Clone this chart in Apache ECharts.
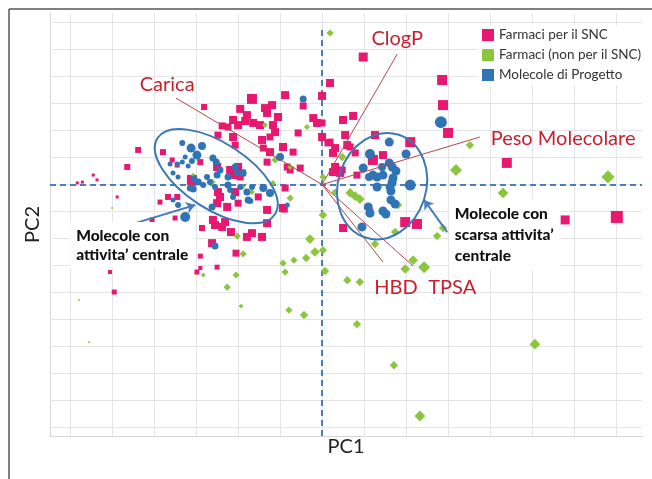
<!DOCTYPE html>
<html><head><meta charset="utf-8">
<script src="https://cdn.jsdelivr.net/npm/echarts@6/dist/echarts.min.js"></script>
<style>html,body{margin:0;padding:0;background:#fff}#c{width:652px;height:479px}</style>
</head><body><div id="c"></div>
<script>
// ---- data ----
const seriesNames = ['Farmaci per il SNC', 'Farmaci (non per il SNC)', 'Molecole di Progetto'];
// [PC1, PC2, marker size]
const snc = [
[-2.81,2.87,6],[-1.67,3.17,10],[-0.88,3.31,8],[-0.45,2.91,7],[0,3.28,8],[0.98,4.72,9],[0.19,3.76,8],
[-1.95,2.8,8],[-1.79,2.57,8],[-1.83,2.35,8],[-1.64,2.28,8],[-1.48,2.2,8],[-2.12,2.39,8],[-2.0,2.2,8],[-2.38,2.17,7],
[-1.36,2.83,8],[-1.19,2.94,8],[-1.31,2.65,8],[-1.05,2.5,8],[-1.17,2.2,8],[-1.12,1.94,8],[-1.24,1.76,7],[-1.43,1.65,8],[-1.4,1.35,7],
[-2.48,1.83,7],[-2.12,1.76,8],[-2.07,1.46,7],[-0.93,1.39,8],[-0.69,1.2,7],[-0.83,0.65,7],[-0.76,0.54,7],[-0.52,0.61,7],
[-1.24,1.2,8],[-1.31,0.83,7],[-0.21,2.46,8],[-0.12,2.28,8],[-0.57,1.91,7],[0,1.76,8],[0.14,1.54,7],
[-4.38,1.28,6],[-4.64,0.65,6],[-3.79,1.2,6],[-3.57,0.91,5],[-3.45,0.72,5],[-2.9,0.83,6],[-3.1,0.17,10],
[-2.5,0.65,8],[-2.19,0.54,8],[-2.0,0.65,8],[-1.9,0.43,7],[-2.12,0.35,8],[-1.95,0.28,7],
[-2.48,-0.28,8],[-2.43,-0.46,8],[-2.07,-0.28,8],[-2.0,-0.69,7],[-2.5,-0.69,8],[-2.26,-0.83,8],[-1.31,-0.94,8],[-0.93,-0.87,8],[-0.88,-0.13,7],
[-3.67,-0.46,6],[-3.45,-0.46,6],[-3.86,-0.65,5],[-3.5,-1.24,5],[-4.05,-1.31,5],[-2.86,-1.61,6],
[-2.6,-1.31,8],[-2.55,-1.5,8],[-2.38,-1.57,8],[-2.31,-1.39,8],[-2.17,-1.76,8],[-1.79,-1.94,8],[-1.67,-1.8,8],[-1.43,-1.94,8],[-1.31,-1.43,8],
[-1.52,-0.46,7],[-0.9,-0.91,7],[-2.62,-2.17,8],[-2.05,-2.54,7],[-2.9,-2.65,5],[-2.98,-3.24,5],[-2.9,-3.09,4],[-2.5,-3.06,5],
[-5.05,-3.24,4],[-4.95,-3.98,5],[-5.83,0.06,3],[-5.71,0.09,3],[-5.45,0.35,3],[-5.36,0.17,3],[-4.88,-0.46,3],
[0.5,2.39,8],[0.74,2.54,8],[0,2.28,7],[0.19,1.57,7],[0.31,1.35,8],[0.26,1.17,8],[0.55,1.83,8],[0.6,1.46,8],[0.67,1.39,7],[0.79,1.17,7],[1.26,1.83,8],
[0.31,0.65,8],[0.26,0.46,8],[0.43,0.43,8],[0.48,0.54,7],[0.83,0.35,7],[1.21,0.91,10],[1.45,1.09,8],[2.1,1.57,10],
[2.86,3.87,10],[2.88,2.94,10],[3.0,1.91,10],[4.4,0.8,10],[5.79,-1.31,9],[7.02,-1.2,12],
[1.14,-1.02,7],[1.98,-1.39,10],[2.26,-1.46,10],[0.5,-1.61,8],[-2.24,2.13,7]
];
const nonSnc = [
[0.19,5.61,6],[0.48,1.02,7],[0.02,0.28,6],[0.31,-0.28,6],[0.67,-0.31,8],[0.79,-0.43,8],[0.9,-0.54,8],
[1.81,-0.76,7],[3.19,0.54,10],[3.52,1.46,7],[4.31,-0.31,9],[6.81,0.28,11],[0.02,-1.13,7],[1.74,-1.76,7],[1.26,-2.2,7],
[2.74,-1.91,7],[2.88,-1.61,7],[2.17,-2.8,8],[1.98,-3.13,8],[2.43,-3.06,10],[0.02,-2.43,7],[0.07,-3.2,7],[0.6,-3.54,7],[0.9,-3.61,7],
[0.83,-5.17,7],[1.71,-6.69,7],[5.07,-5.91,9],[2.33,-8.57,9],
[-2.02,-1.91,6],[-1.88,-2.57,6],[-2.83,-3.35,4],[-2.05,-3.35,6],[-2.26,-3.8,6],[-1.93,-4.5,4],[-0.93,-2.91,6],[-0.88,-3.24,6],[-0.67,-2.8,6],
[-0.38,-2.72,7],[-0.29,-2.02,8],[-0.17,-2.5,8],[-0.79,-4.65,6],[-0.43,-4.83,7],[-5.79,-4.28,2],[-5.55,-5.83,2],[-5.0,-0.87,2],
[-0.76,-0.5,6],[-1.36,2.2,5],[-0.36,2.13,5],[-1.12,0.91,6],[-1.17,0.06,5],[-2.62,0.09,6],[-3.07,0.35,4],[-1.9,-0.09,5],[-1.67,-0.28,5],[-0.76,0.65,5]
];
const progetto = [
[-3.33,1.54,6],[-3.12,1.35,9],[-2.86,1.43,8],[-2.98,1.09,9],[-3.26,1.02,5],[-3.45,0.76,5],[-3.62,0.76,5],[-3.33,0.83,5],[-3.1,0.87,6],[-3.19,0.69,5],[-3.55,0.43,5],[-3.43,0.28,5],
[-2.6,0.98,7],[-2.52,0.83,7],[-2.43,0.54,7],[-2.5,0.35,7],[-3.05,0.2,7],[-2.95,0.09,7],[-3.14,-0.13,7],[-3.07,-0.17,7],[-2.83,-0.02,6],[-2.67,0.09,6],
[-2.24,0.28,7],[-2.07,0.65,7],[-2.02,0.43,6],[-2.24,-0.02,7],[-2.19,-0.2,6],[-1.95,-0.09,6],[-1.79,-0.28,7],[-1.76,-0.57,7],[-1.4,-0.13,8],[-1.24,-0.31,8],
[-2.12,-0.46,6],[-2.62,-0.83,7],[-3.55,-0.57,5],[-3.26,-1.2,10],[-2.55,-2.28,7],[-0.45,3.17,7],[-1.0,1.02,8],[-1.88,0.43,7],[-2.74,0.28,6],[-1.67,-0.09,6],
[-3.43,-0.76,6],[-1.71,-0.61,6],[-0.83,-0.76,5],[-2.55,-0.09,6],
[2.83,2.31,12],[1.6,1.57,9],[1.14,1.13,10],[2.0,1.13,9],[0.98,0.61,9],[1.6,0.8,9],[1.67,0.65,9],[1.76,0.5,9],[1.43,0.65,8],[1.21,0.35,9],[1.31,0.28,9],[1.12,0.28,8],[1.45,0.35,9],[1.69,0.24,9],[1.67,0.09,9],[1.31,-0.09,9],[1.62,-0.09,9],[1.64,-0.24,9],[2.1,-0.02,11],[1.64,-0.57,9],[1.74,-0.72,9],[1.1,-0.83,9],[1.14,-1.06,9],[1.45,-0.98,9],[1.52,-1.09,9],[0.95,-1.57,9]
];
const gridTicksX = [-6,-5,-4,-3,-2,-1,0,1,2,3,4,5,6,7];
const gridTicksY = [-9,-8,-7,-6,-5,-4,-3,-2,-1,0,1,2,3,4,5,6];
const vectorNames = ['Carica', 'ClogP', 'Peso Molecolare', 'HBD', 'TPSA'];
const vectorEnds = [[-3.48,3.2],[1.79,4.83],[3.76,1.76],[1.45,-2.87],[2.17,-3.02]];
const groupNotes = ['Molecole con\nattivita\u2019 centrale', 'Molecole con\nscarsa attivita\u2019\ncentrale'];

// ---- layout / style ----
const X_MIN = -6.48, X_MAX = 7.62, Y_MIN = -9.31, Y_MAX = 6.35;
const C_SNC = '#e8176f', C_NON = '#8cc63e', C_PRO = '#2f75b5';
const C_RED = '#c8202f', C_DASH = '#4a7ebb';
const FONT = 'Lato, "Open Sans", sans-serif';

const chart = echarts.init(document.getElementById('c'), null, {renderer: 'canvas'});

const gridLines = [];
gridTicksX.forEach(v => gridLines.push([{coord:[v, Y_MIN]}, {coord:[v, Y_MAX]}]));
gridTicksY.forEach(v => gridLines.push([{coord:[X_MIN, v]}, {coord:[X_MAX, v]}]));
const dashLines = [
  [{coord:[0, Y_MIN]}, {coord:[0, 5.8]}],
  [{coord:[X_MIN, 0]}, {coord:[X_MAX, 0]}]
];
const vectorLines = vectorEnds.map(e => [{coord:[0,0]}, {coord:e}]);
const arrowLines = [
  [{coord:[-4.45,-1.43]}, {coord:[-3.02,-0.76]}],
  [{coord:[2.98,-1.76]}, {coord:[2.43,-0.57]}]
];

function scatter(name, data, symbol, color, scale) {
  return {
    name, type: 'scatter', data, symbol, z: 3,
    symbolSize: d => d[2] * scale,
    itemStyle: {color, opacity: 1},
    silent: true, animation: false
  };
}
function carrier(z, markLine) {
  return {type: 'scatter', data: [], z, silent: true,
    markLine: Object.assign({silent: true, animation: false, z, symbol: ['none','none'], label: {show: false}}, markLine)};
}

chart.setOption({
  backgroundColor: '#fff',
  animation: false,
  grid: {left: 50, right: 10, top: 13, bottom: 43},
  xAxis: {
    type: 'value', min: X_MIN, max: X_MAX,
    name: 'PC1', nameLocation: 'middle', nameGap: 1,
    nameTextStyle: {fontFamily: FONT, fontSize: 20, color: '#222', verticalAlign: 'top'},
    axisLine: {show: true, onZero: false, lineStyle: {color: '#d6d6d6', width: 1}},
    axisTick: {show: false}, axisLabel: {show: false}, splitLine: {show: false}
  },
  yAxis: {
    type: 'value', min: Y_MIN, max: Y_MAX,
    name: 'PC2', nameLocation: 'middle', nameGap: 7,
    nameTextStyle: {fontFamily: FONT, fontSize: 20, color: '#222'},
    axisLine: {show: true, onZero: false, lineStyle: {color: '#d6d6d6', width: 1}},
    axisTick: {show: false}, axisLabel: {show: false}, splitLine: {show: false}
  },
  legend: {
    data: seriesNames.map(n => ({name: n, icon: 'rect'})),
    orient: 'vertical', left: 478, top: 25, z: 8,
    itemWidth: 12, itemHeight: 12, itemGap: 6,
    backgroundColor: '#fff', padding: [3, 6, 3, 4],
    selectedMode: false,
    textStyle: {fontFamily: FONT, fontSize: 13.5, color: '#333'}
  },
  series: [
    carrier(1, {lineStyle: {color: '#e4e4e4', width: 1, type: 'solid'}, data: gridLines}),
    carrier(2, {lineStyle: {color: C_DASH, width: 2, type: [6, 4]}, data: dashLines}),
    scatter(seriesNames[0], snc, 'rect', C_SNC, 1),
    scatter(seriesNames[1], nonSnc, 'diamond', C_NON, 1.2),
    scatter(seriesNames[2], progetto, 'circle', C_PRO, 1),
    carrier(5, {lineStyle: {color: '#b8454a', width: 1, type: 'solid'}, data: vectorLines}),
    carrier(5, {symbol: ['none','arrow'], symbolSize: 9, lineStyle: {color: C_DASH, width: 2, type: 'solid'}, data: arrowLines})
  ]
});

// ---- annotations positioned through the chart's own scales ----
const px = p => chart.convertToPixel({gridIndex: 0}, p);
const vectorLabelAt = [[-3.69,3.69],[1.79,5.39],[5.74,1.69],[1.76,-3.83],[3.1,-3.83]];
const ellipses = [
  {c: [-2.52, 0.31], rx: 70, ry: 33, rot: -33},
  {c: [1.43, -0.06], rx: 44, ry: 54, rot: -18}
];
const noteAt = [[-6.0, -1.39], [3.02, -0.54]];
const noteLineHeight = [19, 21];

const g = [];
g.push({type: 'line', shape: {x1: 9, y1: 9, x2: 652, y2: 9}, style: {stroke: '#555', lineWidth: 1.5}, z: 10});
g.push({type: 'line', shape: {x1: 9, y1: 9, x2: 9, y2: 479}, style: {stroke: '#555', lineWidth: 1.5}, z: 10});
ellipses.forEach(e => {
  const p = px(e.c);
  g.push({type: 'ellipse', x: p[0], y: p[1], rotation: e.rot * Math.PI / 180,
    shape: {cx: 0, cy: 0, rx: e.rx, ry: e.ry},
    style: {fill: 'none', stroke: '#3b78b6', lineWidth: 2}, z: 6});
});
vectorNames.forEach((n, i) => {
  const p = px(vectorLabelAt[i]);
  g.push({type: 'text', x: p[0], y: p[1], z: 7,
    style: {text: n, fontFamily: FONT, fontSize: 20, fill: C_RED, align: 'center', verticalAlign: 'middle'}});
});
groupNotes.forEach((t, i) => {
  const p = px(noteAt[i]);
  g.push({type: 'text', x: p[0], y: p[1], z: 7,
    style: {text: t, fontFamily: FONT, fontSize: 15.5, fontWeight: 900, fill: '#111',
      align: 'left', verticalAlign: 'top', lineHeight: noteLineHeight[i],
      backgroundColor: '#fff', padding: [4, 6, 4, 6]}});
});
chart.setOption({graphic: g});
</script>
</body></html>
